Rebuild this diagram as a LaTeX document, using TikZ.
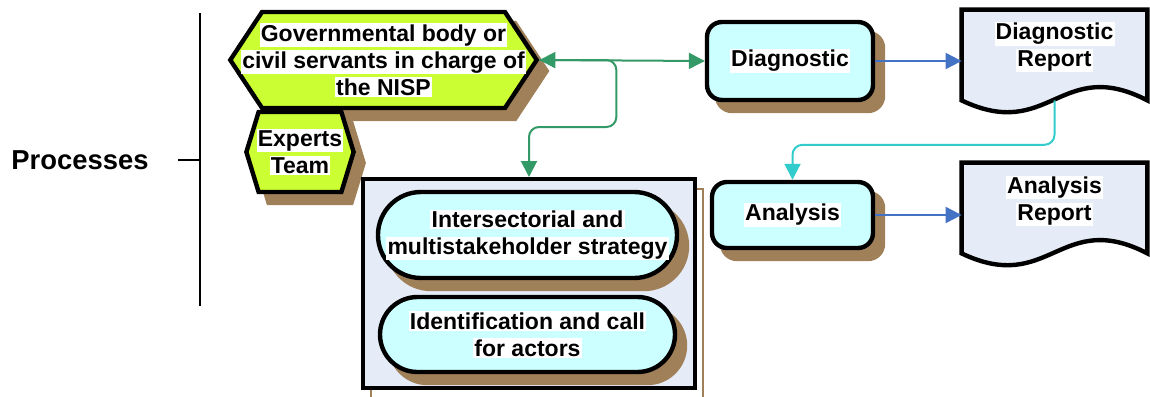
\documentclass[tikz,border=0pt]{standalone}
\usepackage{fontspec}
\setmainfont{Liberation Sans}
\usetikzlibrary{shapes,shapes.geometric,shapes.symbols,shapes.misc,arrows.meta,shadows,calc,positioning,backgrounds}

\definecolor{limefill}{HTML}{CCFF33}
\definecolor{cyanfill}{HTML}{CCFFFF}
\definecolor{docfill}{HTML}{E6ECF7}
\definecolor{shadebrown}{HTML}{A08058}
\definecolor{flowgreen}{HTML}{339966}
\definecolor{flowblue}{HTML}{4472C4}
\definecolor{flowcyan}{HTML}{33CCCC}
\setlength{\fboxsep}{0.6pt}
\newcommand{\wl}[1]{\colorbox{white}{#1}}
% document outline with a wavy bottom
\newcommand{\docoutline}[1]{(#1.north west) -- (#1.north east) -- (#1.south east)
  .. controls +(-87,-45) and +(88,42) .. (#1.south west) -- cycle}

\begin{document}
\begin{tikzpicture}[x=0.5pt, y=-0.5pt, >={Triangle[length=8pt,width=8pt]},
    every node/.style={font=\fontsize{11.5}{13.5}\selectfont\bfseries, align=center, inner sep=0pt},
    brownshadow/.style={general shadow={shadow xshift=5pt, shadow yshift=-5.5pt, fill=shadebrown, draw=shadebrown}},
    actor/.style={signal, signal to=east and west, draw, line width=2.2pt, fill=limefill, brownshadow},
    task/.style={rectangle, rounded corners=7.5pt, draw, line width=2.2pt, fill=cyanfill, brownshadow},
    subtask/.style={rounded rectangle, draw, line width=2.2pt, fill=cyanfill, brownshadow},
    report/.style={rectangle, minimum width=92.5pt, minimum height=45pt},
    flow/.style={line width=1pt}]
  \path[use as bounding box] (0,0) rectangle (1150,396);

  \node[font=\fontsize{13.7}{16}\selectfont\bfseries] (proc) at (80,160) {Processes};
  \coordinate (axtop) at (200,13);
  \coordinate (axbot) at (200,306);
  \coordinate (axmid) at (200,160);
  \coordinate (tick) at (178,160);
  \draw[line width=1pt] (axtop) -- (axbot);
  \draw[line width=1pt] (tick) -- (axmid);

  % actors
  \node[actor, signal pointer angle=113, inner xsep=-10.5pt, minimum height=48pt] (gov) at (383.5,60)
      {\wl{Governmental body or}\\\wl{civil servants in charge of}\\\wl{the NISP}};
  \node[actor, signal pointer angle=146, inner xsep=-1pt, minimum height=40pt] (experts) at (300,152)
      {\wl{Experts}\\\wl{Team}};

  % strategy block
  \node[draw, line width=2pt, fill=docfill, minimum width=166pt, minimum height=104.5pt,
      general shadow={shadow xshift=4pt, shadow yshift=-5pt, draw=shadebrown, line width=0.6pt}] (cont) at (529,283.5) {};
  \node[subtask, minimum width=147.5pt, minimum height=43pt] (strat) at (527.5,235)
      {\wl{Intersectorial and}\\\wl{multistakeholder strategy}};
  \node[subtask, minimum width=147.5pt, minimum height=37.5pt] (ident) at (527.5,334.5)
      {\wl{Identification and call}\\\wl{for actors}};

  % tasks and reports
  \node[task, minimum width=83pt, minimum height=39pt] (diag) at (790,61) {\wl{Diagnostic}};
  \node[task, minimum width=80.5pt, minimum height=33pt] (anal) at (792.5,215) {\wl{Analysis}};
  \node[report, label={[yshift=4pt]center:{\wl{Diagnostic}\\\wl{Report}}}] (drep) at (1054.5,55) {};
  \node[report, label={[yshift=3.5pt]center:{\wl{Analysis}\\\wl{Report}}}] (arep) at (1054.5,208) {};
  \begin{scope}[on background layer]
    \fill[white] (0,0) rectangle (1150,396);
    \foreach \doc in {drep,arep} {
      \fill[shadebrown, xshift=5pt, yshift=-5.5pt] \docoutline{\doc};
      \draw[line width=2.2pt, fill=docfill] \docoutline{\doc};
    }
  \end{scope}

  \draw[flow, flowgreen, <->] (gov.east) -- (diag.west);
  \draw[flow, flowgreen, ->, rounded corners=5pt] (gov.east) -| ($(gov.east)+(77,67)$) -| (cont.north);
  \draw[flow, flowblue, ->] (diag.east) -- (diag.east -| drep.west);
  \draw[flow, flowblue, ->] (anal.east) -- (anal.east -| arep.west);
  \draw[flow, flowcyan, ->, rounded corners=5pt] (drep.south) |- ($(anal.north)+(0,-35)$) -- (anal.north);
\end{tikzpicture}
\end{document}
